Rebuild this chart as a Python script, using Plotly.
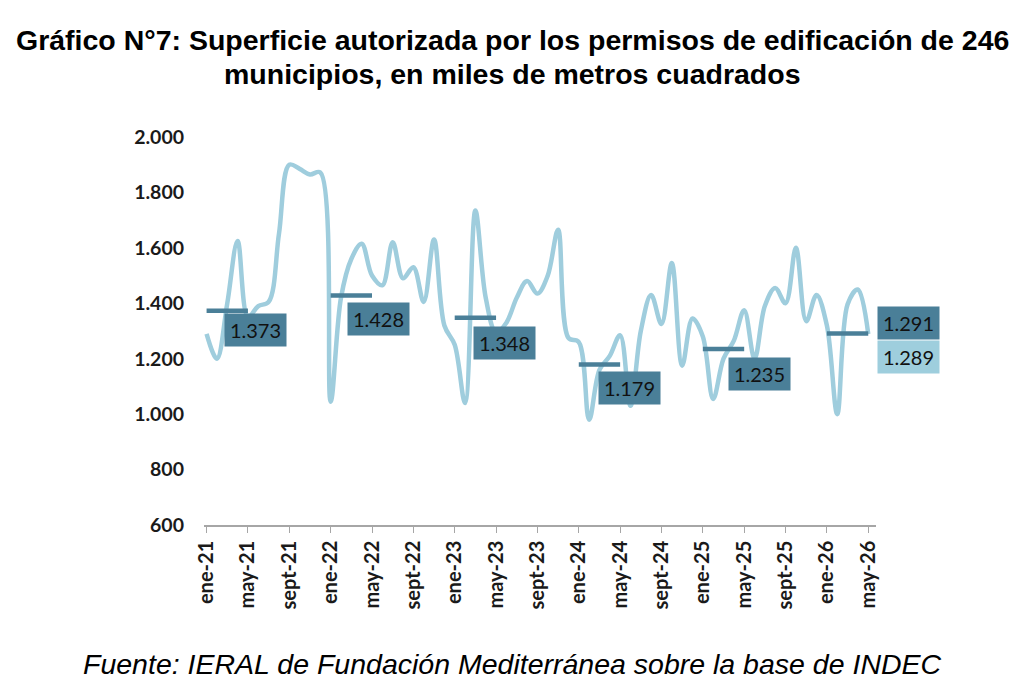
import plotly.graph_objects as go

# monthly values, ene-21 .. may-26 (miles de m2)
values_2021 = [1290, 1200, 1400, 1625, 1350, 1390, 1405, 1650, 1900, 1885, 1865, 1872]
values_2022 = [1045, 1420, 1560, 1615, 1500, 1465, 1620, 1490, 1530, 1405, 1630, 1320]
values_2023 = [1250, 1040, 1735, 1420, 1295, 1330, 1420, 1480, 1435, 1500, 1665, 1275]
values_2024 = [1260, 980, 1160, 1210, 1285, 1030, 1300, 1430, 1325, 1545, 1175, 1345]
values_2025 = [1280, 1055, 1200, 1265, 1375, 1200, 1390, 1455, 1400, 1600, 1335, 1430]
values_2026 = [1320, 1000, 1396, 1450, 1289]

# promedio ene-may de cada año
avg_values = [1373, 1428, 1348, 1179, 1235, 1291]
avg_start = [0, 12, 24, 36, 48, 60]

tick_labels = ["ene-21", "may-21", "sept-21", "ene-22", "may-22", "sept-22",
               "ene-23", "may-23", "sept-23", "ene-24", "may-24", "sept-24",
               "ene-25", "may-25", "sept-25", "ene-26", "may-26"]
y_ticks = [600, 800, 1000, 1200, 1400, 1600, 1800, 2000]

values = values_2021 + values_2022 + values_2023 + values_2024 + values_2025 + values_2026
months = list(range(len(values)))

LINE = "#9fcddd"
DARK = "#4a7f98"
LIGHT = "#9ecedd"


def fmt(v):
    return f"{v:,}".replace(",", ".")


fig = go.Figure()

fig.add_trace(go.Scatter(
    x=months, y=values, mode="lines",
    line=dict(color=LINE, width=4.5, shape="spline", smoothing=1),
    showlegend=False, hoverinfo="skip"
))

# average segments (ene-may)
for s, a in zip(avg_start, avg_values):
    fig.add_trace(go.Scatter(
        x=[s, s + 4], y=[a, a], mode="lines",
        line=dict(color=DARK, width=4.5),
        showlegend=False, hoverinfo="skip"
    ))

label_dx = [4.75, 4.65, 4.8, 4.9, 5.5]
label_dy = [-19, -23, -25, -23, -25]
box_font = dict(family="Lato", size=20, color="#111111")

for s, a, dx, dy in zip(avg_start[:-1], avg_values[:-1], label_dx, label_dy):
    fig.add_annotation(x=s + dx, y=a, yshift=dy, text=fmt(a), showarrow=False,
                       xanchor="center", yanchor="middle",
                       bgcolor=DARK, width=57, height=28, borderpad=2, font=box_font)

# last year's average and last value, right of the plot
fig.add_annotation(xref="paper", x=1.0483, y=avg_values[-1], yshift=10,
                   xanchor="center", yanchor="middle",
                   text=fmt(avg_values[-1]), showarrow=False, bgcolor=DARK,
                   width=57, height=28, borderpad=2, font=box_font)
fig.add_annotation(xref="paper", x=1.0483, y=values[-1], yshift=-23,
                   xanchor="center", yanchor="middle",
                   text=fmt(values[-1]), showarrow=False, bgcolor=LIGHT,
                   width=57, height=28, borderpad=2, font=box_font)

# title & source
title_font = dict(family="Liberation Sans", size=28.5, color="black", weight="bold")
fig.add_annotation(xref="paper", yref="paper", x=0.4587, y=1.251, yanchor="middle",
                   showarrow=False,
                   text="Gráfico N°7: Superficie autorizada por los permisos de edificación de 246",
                   font=title_font)
fig.add_annotation(xref="paper", yref="paper", x=0.4587, y=1.163, yanchor="middle",
                   showarrow=False,
                   text="municipios, en miles de metros cuadrados", font=title_font)
fig.add_annotation(xref="paper", yref="paper", x=0.4595, y=-0.358, yanchor="middle",
                   showarrow=False,
                   text="<i>Fuente: IERAL de Fundación Mediterránea sobre la base de INDEC</i>",
                   font=dict(family="Liberation Sans", size=28.5, color="black"))

x_font = dict(family="Lato", size=20, color="#1a1a1a", weight="bold")
y_font = dict(family="Lato", size=19.5, color="#1a1a1a", weight="bold")

fig.update_layout(
    width=1024, height=689,
    margin=dict(l=195.5, r=156, t=129, b=172),
    paper_bgcolor="white", plot_bgcolor="white",
    separators=",.",
    xaxis=dict(
        range=[-0.25, 64.75],
        tickvals=months[::4], ticktext=tick_labels,
        tickangle=-90, ticks="outside", ticklen=6, tickcolor="#a6a6a6",
        showline=True, linecolor="#a6a6a6", linewidth=1.5,
        showgrid=False, zeroline=False, tickfont=x_font
    ),
    yaxis=dict(
        range=[600, 2000], tickvals=y_ticks, tickformat=",d",
        showline=False, showgrid=False, zeroline=False, ticks="",
        ticklabelstandoff=19, tickfont=y_font
    ),
)

fig.write_html("out.html")
